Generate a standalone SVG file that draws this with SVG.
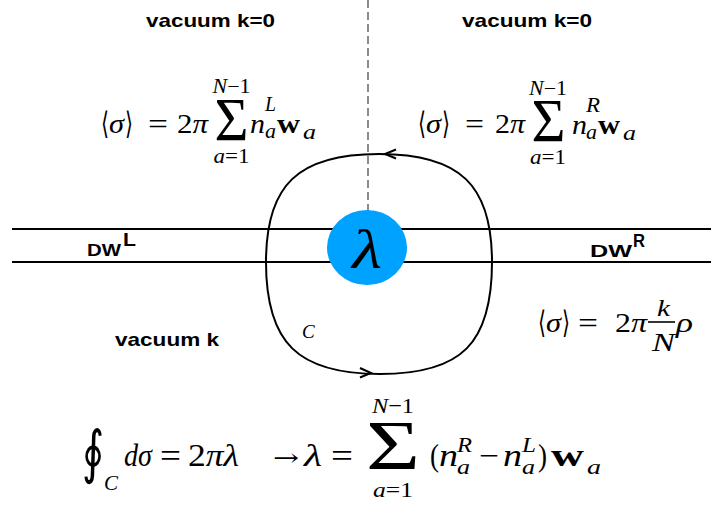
<svg xmlns="http://www.w3.org/2000/svg" width="711" height="508" viewBox="0 0 711 508">
<style>
.sans{font-family:'Liberation Sans',Arial,sans-serif;font-weight:bold;fill:#000}
.m{font-family:'Liberation Serif','DejaVu Serif',serif;fill:#000}
.dj{font-family:'DejaVu Serif',serif;fill:#000}
.i{font-style:italic}
.b{font-weight:bold}
.ln{stroke:#000;stroke-width:2;fill:none}
</style>
<rect width="711" height="508" fill="#fff"/>
<g id="connectors">
  <line x1="368" y1="0" x2="368" y2="212" stroke="#6e6e6e" stroke-width="1.6" stroke-dasharray="8,4"/>
  <line class="ln" x1="12" y1="229" x2="711" y2="229"/>
  <line class="ln" x1="12" y1="262" x2="711" y2="262"/>
  <path id="contour" class="ln" d="M379,154 C460,154 492,185 492,262 C492,343 462,374 380,374 C298,374 266,343 266,262 C266,185 298,154 379,154 Z"/>
  <polyline class="ln" points="396,149.5 385,154 396,158.5"/>
  <polyline class="ln" points="360,368 371,373 360,377.5"/>
</g>
<g id="lambda">
  <ellipse cx="367" cy="247.5" rx="40" ry="37.5" fill="#00a2ff"/>
  <text class="m i" x="367" y="268" font-size="54" text-anchor="middle" textLength="30" lengthAdjust="spacingAndGlyphs">λ</text>
</g>
<g id="labels">
  <text class="sans" x="146" y="27" font-size="19" textLength="129" lengthAdjust="spacingAndGlyphs">vacuum k=0</text>
  <text class="sans" x="462" y="27" font-size="19" textLength="130" lengthAdjust="spacingAndGlyphs">vacuum k=0</text>
  <text class="sans" x="115" y="346" font-size="19" textLength="104" lengthAdjust="spacingAndGlyphs">vacuum k</text>
  <text class="sans" x="87" y="256" font-size="17" textLength="34" lengthAdjust="spacingAndGlyphs">DW</text>
  <text class="sans" x="123" y="246" font-size="18" textLength="13" lengthAdjust="spacingAndGlyphs">L</text>
  <text class="sans" x="590" y="257" font-size="17" textLength="42" lengthAdjust="spacingAndGlyphs">DW</text>
  <text class="sans" x="633" y="247" font-size="18" textLength="12" lengthAdjust="spacingAndGlyphs">R</text>
  <text class="m i" x="302" y="338" font-size="19">C</text>
</g>
<g id="formula-left">
  <text class="dj" x="101" y="134" font-size="31" textLength="8" lengthAdjust="spacingAndGlyphs">⟨</text>
  <text class="m i" x="109" y="133" font-size="28" textLength="15" lengthAdjust="spacingAndGlyphs">σ</text>
  <text class="dj" x="125" y="134" font-size="31" textLength="8" lengthAdjust="spacingAndGlyphs">⟩</text>
  <text class="m" x="148" y="134" font-size="30" textLength="20" lengthAdjust="spacingAndGlyphs">=</text>
  <text class="m" x="177" y="133" font-size="28" textLength="31" lengthAdjust="spacingAndGlyphs">2<tspan class="i">π</tspan></text>
  <text class="m" x="231.5" y="140" font-size="62" text-anchor="middle" textLength="34" lengthAdjust="spacingAndGlyphs">Σ</text>
  <text class="m" x="231.5" y="93" font-size="20" text-anchor="middle" textLength="38" lengthAdjust="spacingAndGlyphs"><tspan class="i">N</tspan>−1</text>
  <text class="m" x="231.5" y="163" font-size="20" text-anchor="middle" textLength="36" lengthAdjust="spacingAndGlyphs"><tspan class="i">a</tspan>=1</text>
  <text class="m i" x="250" y="133" font-size="28" textLength="15" lengthAdjust="spacingAndGlyphs">n</text>
  <text class="m i" x="265" y="111" font-size="20" textLength="11" lengthAdjust="spacingAndGlyphs">L</text>
  <text class="m i" x="265" y="138" font-size="20" textLength="11" lengthAdjust="spacingAndGlyphs">a</text>
  <text class="m b" x="277" y="133" font-size="28" textLength="23" lengthAdjust="spacingAndGlyphs">w</text>
  <text class="m i" x="303" y="139" font-size="20" textLength="13" lengthAdjust="spacingAndGlyphs">a</text>
</g>
<g id="formula-right">
  <text class="dj" x="418" y="134" font-size="31" textLength="8" lengthAdjust="spacingAndGlyphs">⟨</text>
  <text class="m i" x="426" y="133" font-size="28" textLength="15" lengthAdjust="spacingAndGlyphs">σ</text>
  <text class="dj" x="442" y="134" font-size="31" textLength="8" lengthAdjust="spacingAndGlyphs">⟩</text>
  <text class="m" x="465" y="134" font-size="30" textLength="19" lengthAdjust="spacingAndGlyphs">=</text>
  <text class="m" x="495" y="133" font-size="28" textLength="30" lengthAdjust="spacingAndGlyphs">2<tspan class="i">π</tspan></text>
  <text class="m" x="548.5" y="141" font-size="62" text-anchor="middle" textLength="34" lengthAdjust="spacingAndGlyphs">Σ</text>
  <text class="m" x="548" y="95" font-size="20" text-anchor="middle" textLength="38" lengthAdjust="spacingAndGlyphs"><tspan class="i">N</tspan>−1</text>
  <text class="m" x="548" y="164" font-size="20" text-anchor="middle" textLength="36" lengthAdjust="spacingAndGlyphs"><tspan class="i">a</tspan>=1</text>
  <text class="m i" x="572" y="134" font-size="28" textLength="15" lengthAdjust="spacingAndGlyphs">n</text>
  <text class="m i" x="586" y="112" font-size="20" textLength="14" lengthAdjust="spacingAndGlyphs">R</text>
  <text class="m i" x="586" y="139" font-size="20" textLength="11" lengthAdjust="spacingAndGlyphs">a</text>
  <text class="m b" x="598" y="134" font-size="28" textLength="22" lengthAdjust="spacingAndGlyphs">w</text>
  <text class="m i" x="623" y="140" font-size="20" textLength="13" lengthAdjust="spacingAndGlyphs">a</text>
</g>
<g id="formula-k">
  <text class="dj" x="538" y="333" font-size="31" textLength="8" lengthAdjust="spacingAndGlyphs">⟨</text>
  <text class="m i" x="546" y="332" font-size="28" textLength="15" lengthAdjust="spacingAndGlyphs">σ</text>
  <text class="dj" x="562" y="333" font-size="31" textLength="8" lengthAdjust="spacingAndGlyphs">⟩</text>
  <text class="m" x="578" y="333" font-size="30" textLength="20" lengthAdjust="spacingAndGlyphs">=</text>
  <text class="m" x="615" y="332" font-size="28" textLength="32" lengthAdjust="spacingAndGlyphs">2<tspan class="i">π</tspan></text>
  <line x1="648" y1="322" x2="675" y2="322" stroke="#000" stroke-width="1.6"/>
  <text class="m i" x="663.5" y="316" font-size="24" text-anchor="middle" textLength="13" lengthAdjust="spacingAndGlyphs">k</text>
  <text class="m i" x="663.5" y="351" font-size="25" text-anchor="middle" textLength="23" lengthAdjust="spacingAndGlyphs">N</text>
  <text class="m i" x="676" y="332" font-size="28" textLength="17" lengthAdjust="spacingAndGlyphs">ρ</text>
</g>
<g id="formula-bottom">
  <text class="dj" x="82" y="472" font-size="58" textLength="22" lengthAdjust="spacingAndGlyphs">∮</text>
  <text class="m i" x="104" y="490" font-size="21" textLength="14" lengthAdjust="spacingAndGlyphs">C</text>
  <text class="m i" x="124" y="466" font-size="31" textLength="28" lengthAdjust="spacingAndGlyphs">dσ</text>
  <text class="m" x="160" y="467" font-size="33" textLength="21" lengthAdjust="spacingAndGlyphs">=</text>
  <text class="m" x="188" y="466" font-size="31" textLength="51" lengthAdjust="spacingAndGlyphs">2<tspan class="i">πλ</tspan></text>
  <text class="dj" x="273" y="466" font-size="24" textLength="26" lengthAdjust="spacingAndGlyphs">→</text>
  <text class="m i" x="304" y="466" font-size="31" textLength="18" lengthAdjust="spacingAndGlyphs">λ</text>
  <text class="m" x="331" y="467" font-size="33" textLength="22" lengthAdjust="spacingAndGlyphs">=</text>
  <text class="m" x="393" y="469" font-size="70" text-anchor="middle" textLength="54" lengthAdjust="spacingAndGlyphs">Σ</text>
  <text class="m" x="393" y="413" font-size="22" text-anchor="middle" textLength="42" lengthAdjust="spacingAndGlyphs"><tspan class="i">N</tspan>−1</text>
  <text class="m" x="393" y="497" font-size="22" text-anchor="middle" textLength="40" lengthAdjust="spacingAndGlyphs"><tspan class="i">a</tspan>=1</text>
  <text class="m" x="430" y="466" font-size="31" textLength="9" lengthAdjust="spacingAndGlyphs">(</text>
  <text class="m i" x="439" y="466" font-size="31" textLength="19" lengthAdjust="spacingAndGlyphs">n</text>
  <text class="m i" x="457" y="452" font-size="22" textLength="15" lengthAdjust="spacingAndGlyphs">R</text>
  <text class="m i" x="457" y="474" font-size="22" textLength="13" lengthAdjust="spacingAndGlyphs">a</text>
  <text class="m" x="479" y="466" font-size="31" textLength="20" lengthAdjust="spacingAndGlyphs">−</text>
  <text class="m i" x="503" y="466" font-size="31" textLength="19" lengthAdjust="spacingAndGlyphs">n</text>
  <text class="m i" x="522" y="452" font-size="22" textLength="14" lengthAdjust="spacingAndGlyphs">L</text>
  <text class="m i" x="522" y="474" font-size="22" textLength="13" lengthAdjust="spacingAndGlyphs">a</text>
  <text class="m" x="538" y="466" font-size="31" textLength="9" lengthAdjust="spacingAndGlyphs">)</text>
  <text class="m b" x="551" y="466" font-size="31" textLength="33" lengthAdjust="spacingAndGlyphs">w</text>
  <text class="m i" x="587" y="474" font-size="22" textLength="14" lengthAdjust="spacingAndGlyphs">a</text>
</g>
</svg>
